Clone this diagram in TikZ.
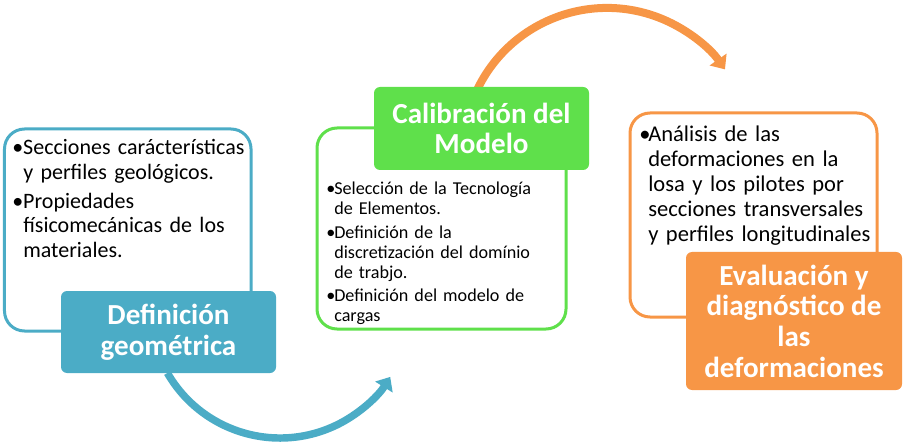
\documentclass[tikz,border=0pt]{standalone}
\usepackage{fontspec}
\setmainfont{Carlito}
\usetikzlibrary{arrows.meta}
\definecolor{cblue}{HTML}{4BACC6}
\definecolor{cgreen}{HTML}{5FE04B}
\definecolor{corange}{HTML}{F79646}
\newlength\bw
\newcommand\bitem[1]{\hangindent=\bw\hangafter=1\noindent\makebox[\bw][l]{•}#1\par}
\tikzset{
  panel/.style={fill=white, line width=2.25pt, rounded corners=15pt, inner sep=0pt},
  titlebox/.style={rounded corners=4.5pt, text=white, font=\bfseries\fontsize{21.8pt}{23pt}\selectfont, align=center, inner sep=0pt},
  bodytext/.style={anchor=base west, inner sep=0pt, align=left},
  flowarrow/.style={line width=#1, -{Triangle[length=9pt,width=15pt]}}
}
\begin{document}
\begin{tikzpicture}[x=0.75pt,y=-0.75pt]
\useasboundingbox (0,0) rectangle (906,445);
% arrows
\coordinate (bs) at (167.4,373);
\draw[flowarrow=5.6pt, cblue] (bs) arc[start angle=150, end angle=32, radius=130];
\coordinate (os) at (476.5,91.1);
\draw[flowarrow=6pt, corange] (os) arc[start angle=205, end angle=325, radius=144];
% panels
\node[panel, draw=cblue, minimum width=184.9pt, minimum height=151.5pt] (lp) at (127.75,230) {};
\node[panel, draw=cgreen, minimum width=186.75pt, minimum height=150.75pt] (gp) at (441.5,228.5) {};
\node[panel, draw=corange, minimum width=185.25pt, minimum height=153pt] (op) at (753.5,215) {};
% texts
\node[bodytext, font=\fontsize{16.5pt}{18.4pt}\selectfont, text width=180pt] (lx) at (12,155)
  {\setlength\bw{8.25pt}\bitem{Secciones carácterísticas\newline y perfiles geológicos.}\vspace{3pt}\bitem{Propiedades\newline físicomecánicas de los\newline materiales.}};
\node[bodytext, font=\fontsize{13.6pt}{15pt}\selectfont, text width=180pt] (gx) at (326,195)
  {\setlength\bw{6pt}\bitem{Selección de la Tecnología\newline de Elementos.}\vspace{2.5pt}\bitem{Definición de la\newline discretización del domínio\newline de trabjo.}\vspace{2.5pt}\bitem{Definición del modelo de\newline cargas}};
\node[bodytext, font=\fontsize{16.9pt}{18.75pt}\selectfont, text width=180pt] (ox) at (639,141.7)
  {\setlength\bw{6.75pt}\bitem{Análisis de las\newline deformaciones en la\newline losa y los pilotes por\newline secciones transversales\newline y perfiles longitudinales}};
% titles
\node[titlebox, fill=cblue, minimum width=161.25pt, minimum height=61.5pt] (lt) at (168.5,332) {Definición\\geométrica};
\node[titlebox, fill=cgreen, minimum width=161.25pt, minimum height=62.25pt] (gt) at (481.5,128.5) {Calibración del\\Modelo};
\node[titlebox, fill=corange, minimum width=162pt, minimum height=103.5pt] (ot) at (794,321) {Evaluación y\\diagnóstico de\\las\\deformaciones};
\end{tikzpicture}
\end{document}
